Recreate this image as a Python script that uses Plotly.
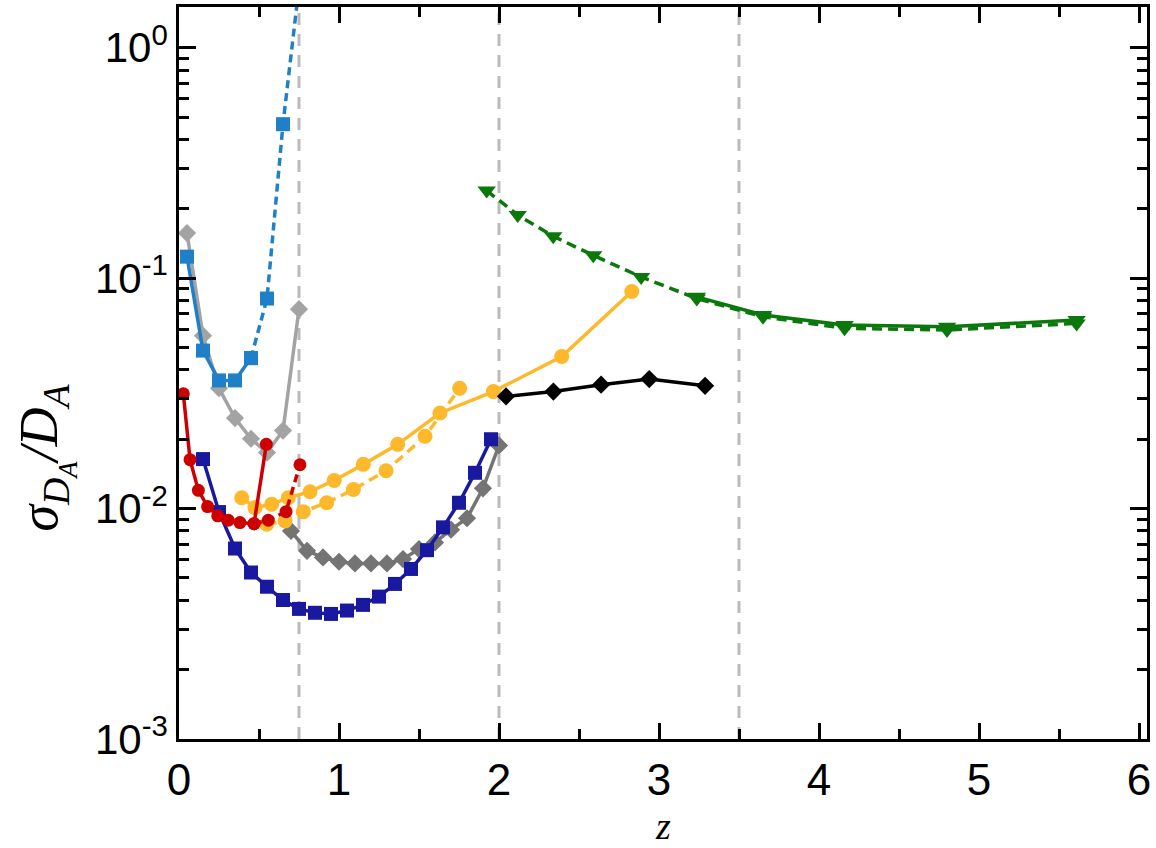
import plotly.graph_objects as go

# ---------------- data ----------------
lb_solid_z = [0.05, 0.15, 0.25, 0.35, 0.45]
lb_solid_y = [0.124, 0.0485, 0.036, 0.036, 0.045]
lb_dash_z = [0.45, 0.55, 0.65, 0.75]
lb_dash_y = [0.045, 0.0816, 0.466, 1.84]

lg_z = [0.05, 0.15, 0.25, 0.35, 0.45, 0.55, 0.65, 0.75]
lg_y = [0.157, 0.0563, 0.0333, 0.0247, 0.0201, 0.0175, 0.0218, 0.0734]

red_solid_z = [0.027, 0.069, 0.121, 0.179, 0.242, 0.308, 0.381, 0.469, 0.546]
red_solid_y = [0.0315, 0.0163, 0.0120, 0.0102, 0.0093, 0.0089, 0.0087, 0.0086, 0.0190]
red_dash_z = [0.469, 0.558, 0.669, 0.756]
red_dash_y = [0.0086, 0.0089, 0.0097, 0.0155]

db_z = [0.15, 0.25, 0.35, 0.45, 0.55, 0.65, 0.75, 0.85, 0.95, 1.05,
        1.15, 1.25, 1.35, 1.45, 1.55, 1.65, 1.75, 1.85, 1.95]
db_y = [0.0164, 0.00966, 0.00671, 0.00528, 0.00458, 0.00401, 0.00367, 0.00353, 0.00349, 0.00361,
        0.00382, 0.00415, 0.00471, 0.00547, 0.0066, 0.00829, 0.0106, 0.0143, 0.0200]

dg_z = [0.7, 0.8, 0.9, 1.0, 1.1, 1.2, 1.3, 1.4, 1.5, 1.6, 1.7, 1.8, 1.9, 2.0]
dg_y = [0.0080, 0.00656, 0.00614, 0.00588, 0.00578, 0.00578, 0.00578, 0.00604,
        0.00667, 0.00713, 0.0081, 0.00908, 0.01224, 0.0188]

yel_solid_z = [0.392, 0.475, 0.579, 0.683, 0.819, 0.970, 1.152, 1.367, 1.631, 1.965, 2.392, 2.830]
yel_solid_y = [0.01115, 0.0101, 0.01044, 0.01115, 0.01184, 0.01325, 0.01556, 0.0190, 0.0260, 0.0322, 0.0457, 0.0875]
yel_dash_z = [0.548, 0.663, 0.777, 0.923, 1.090, 1.294, 1.538, 1.754]
yel_dash_y = [0.00855, 0.00884, 0.0097, 0.0106, 0.0121, 0.0146, 0.0206, 0.0333]

blk_z = [2.044, 2.340, 2.638, 2.939, 3.288]
blk_y = [0.0307, 0.0322, 0.0345, 0.0365, 0.0341]

grn_dash_z = [1.923, 2.117, 2.339, 2.589, 2.888, 3.236, 3.650, 4.160, 4.800, 5.610]
grn_dash_y = [0.240, 0.188, 0.152, 0.1257, 0.1013, 0.0816, 0.0680, 0.0606, 0.0596, 0.0636]
grn_solid_z = [3.236, 3.650, 4.160, 4.800, 5.610]
grn_solid_y = [0.0830, 0.0692, 0.0626, 0.0615, 0.0658]

boundaries_z = [0.75, 2.0, 3.5]

y_tickvals = [1e-3, 1e-2, 1e-1, 1e0]
y_ticktext = ["10<sup>-3</sup>", "10<sup>-2</sup>", "10<sup>-1</sup>", "10<sup>0</sup>"]
x_tickvals = [0, 1, 2, 3, 4, 5, 6]
x_ticktext = ["0", "1", "2", "3", "4", "5", "6"]

# ---------------- styles ----------------
C_LBLUE = "#1f80c8"
C_LGRAY = "#a3a3a3"
C_RED = "#cc0000"
C_DBLUE = "#1919a0"
C_DGRAY = "#747474"
C_YEL = "#fdb92b"
C_BLK = "#000000"
C_GRN = "#0a780a"
LW = 3.5

fig = go.Figure()


def add(z, y, color, symbol, size, dash="solid"):
    fig.add_trace(go.Scatter(
        x=z, y=y, mode="lines+markers",
        line=dict(color=color, width=LW, dash=dash),
        marker=dict(color=color, symbol=symbol, size=size, line=dict(width=0)),
        showlegend=False,
    ))


add(lg_z, lg_y, C_LGRAY, "diamond", 14)
add(lb_dash_z, lb_dash_y, C_LBLUE, "square", 14, "8px,5px")
add(lb_solid_z, lb_solid_y, C_LBLUE, "square", 14)
add(dg_z, dg_y, C_DGRAY, "diamond", 14)
add(db_z, db_y, C_DBLUE, "square", 14)
add(yel_dash_z, yel_dash_y, C_YEL, "circle", 15, "10px,6px")
add(yel_solid_z, yel_solid_y, C_YEL, "circle", 15)
add(red_dash_z, red_dash_y, C_RED, "circle", 13, "8px,5px")
add(red_solid_z, red_solid_y, C_RED, "circle", 13)
add(blk_z, blk_y, C_BLK, "diamond", 14)
add(grn_dash_z, grn_dash_y, C_GRN, "triangle-down", 16, "10px,6px")
add(grn_solid_z, grn_solid_y, C_GRN, "triangle-down", 16)

for zb in boundaries_z:
    fig.add_shape(type="line", xref="x", yref="paper", x0=zb, x1=zb, y0=0, y1=1,
                  line=dict(color="#bbbbbb", width=3, dash="12px,9px"), layer="below")

minor_y = [m * 10 ** e for e in range(-3, 1) for m in range(2, 10)]

fig.update_layout(
    width=1156, height=848,
    margin=dict(l=179, r=9, t=4, b=109),
    paper_bgcolor="white", plot_bgcolor="white",
    xaxis=dict(
        range=[0, 6.05], tickmode="array", tickvals=x_tickvals, ticktext=x_ticktext,
        ticks="inside", ticklen=16, tickwidth=2.5, tickcolor="black",
        showline=True, linecolor="black", linewidth=2.5, mirror="ticks",
        showgrid=False, zeroline=False,
        tickfont=dict(family="Liberation Sans", size=44, color="black"),
        minor=dict(dtick=0.5, tick0=0, ticks="inside", ticklen=10, tickwidth=2.5, tickcolor="black", showgrid=False),
    ),
    yaxis=dict(
        type="log", range=[-3, 0.177], tickmode="array", tickvals=y_tickvals, ticktext=y_ticktext,
        ticks="inside", ticklen=17, tickwidth=2.5, tickcolor="black",
        showline=True, linecolor="black", linewidth=2.5, mirror="ticks",
        showgrid=False, zeroline=False,
        tickfont=dict(family="Liberation Sans", size=42, color="black"),
        minor=dict(tickmode="array", tickvals=minor_y, ticks="inside", ticklen=10, tickwidth=2.5,
                   tickcolor="black", showgrid=False),
    ),
    annotations=[
        dict(text="<i>z</i>", xref="paper", yref="paper", x=0.5, y=-0.1185, yanchor="middle",
             showarrow=False, font=dict(family="Liberation Serif", size=38, color="black")),
        dict(text="<i>σ</i><sub><i>D</i><sub><i>A</i></sub></sub><i>/D</i><sub><i>A</i></sub>",
             xref="paper", yref="paper", x=-0.138, y=0.385, xanchor="center", yanchor="middle",
             textangle=-90, showarrow=False,
             font=dict(family="Liberation Serif", size=54, color="black")),
    ],
)

fig.write_html("out.html")
